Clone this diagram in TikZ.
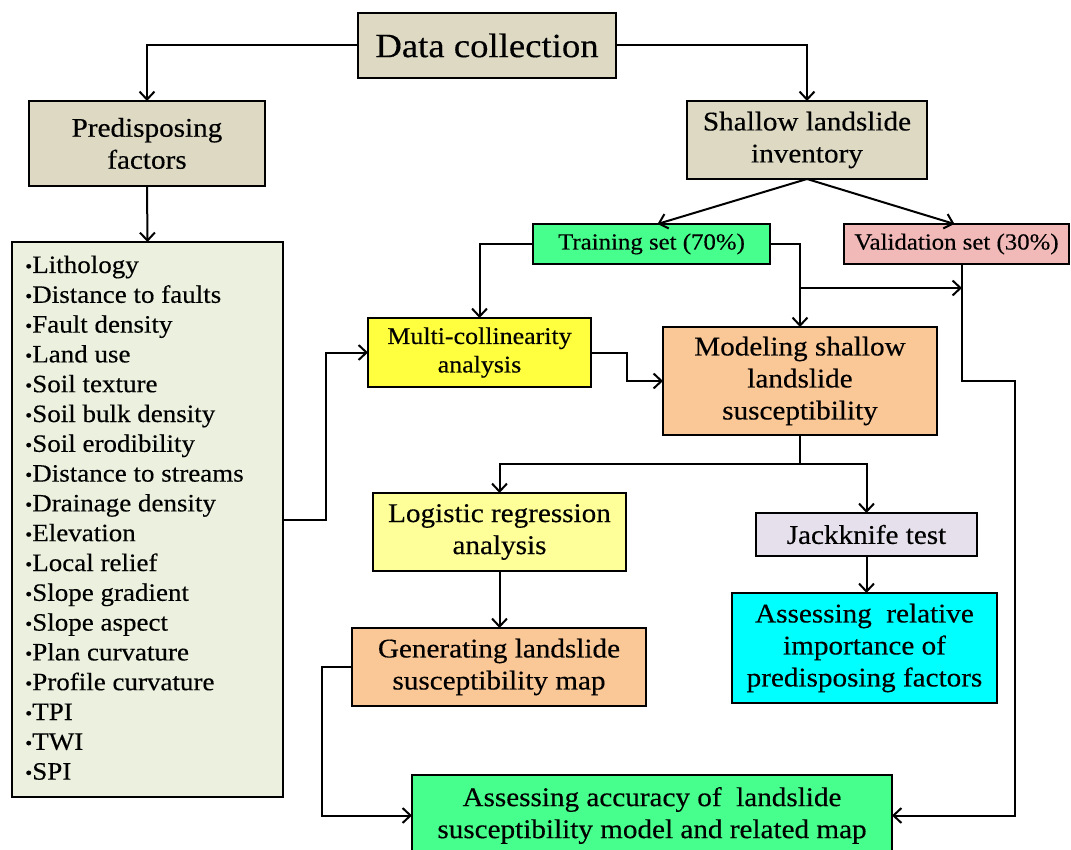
\documentclass[tikz,border=0pt]{standalone}
\usepackage{fontspec}
\usepackage{graphicx}
\setmainfont[FakeStretch=1.08, FakeBold=0.35]{Liberation Serif}
\usetikzlibrary{arrows.meta}
\definecolor{tanbox}{HTML}{DDD9C3}
\definecolor{listbox}{HTML}{EBF1DE}
\definecolor{greenbox}{HTML}{47FF8C}
\definecolor{pinkbox}{HTML}{F2B9B9}
\definecolor{yellowbox}{HTML}{FFFF40}
\definecolor{lightyellow}{HTML}{FFFF99}
\definecolor{orangebox}{HTML}{FAC796}
\definecolor{lavender}{HTML}{E6E0EC}
\definecolor{cyanbox}{HTML}{00FFFF}
\begin{document}
\begin{tikzpicture}[x=1pt,y=-1pt,
  box/.style={draw=black, line width=2.3pt, inner sep=0pt, outer sep=0pt, align=center, text=black},
  conn/.style={line width=2pt, -{Straight Barb[length=8pt,width=15pt]}},
  plain/.style={line width=2pt},
  fA/.style={font=\fontsize{34}{40}\selectfont},
  fB/.style={font=\fontsize{27}{32}\selectfont},
  fC/.style={font=\fontsize{24}{28.5}\selectfont},
  fT/.style={font=\fontsize{23}{28}\selectfont},
  fL/.style={font=\fontsize{25}{29.8}\selectfont}]
\fill[white] (0,0) rectangle (1071,850);
\useasboundingbox (0,0) rectangle (1071,850);

% boxes
\node[box, fA, fill=tanbox, minimum width=258pt, minimum height=65pt] (dc) at (487,45.5) {Data collection};
\node[box, fB, fill=tanbox, minimum width=236pt, minimum height=85pt] (pf) at (147,143.5) {Predisposing\\factors};
\node[box, fill=listbox, minimum width=271pt, minimum height=555pt] (list) at (147.5,519.5) {};
\node[box, fB, fill=tanbox, minimum width=240pt, minimum height=78pt] (sli) at (807,140) {Shallow landslide\\inventory};
\node[box, fT, fill=greenbox, minimum width=237pt, minimum height=40pt] (tr) at (651.5,244) {Training set (70\%)};
\node[box, fT, fill=pinkbox, minimum width=225pt, minimum height=40pt] (val) at (956.5,244) {Validation set (30\%)};
\node[box, fC, fill=yellowbox, minimum width=223pt, minimum height=69pt] (multi) at (479.5,352.5) {Multi-collinearity\\analysis};
\node[box, fB, fill=orangebox, minimum width=274pt, minimum height=108pt] (mod) at (800,381) {Modeling shallow\\landslide\\susceptibility};
\node[box, fB, fill=lightyellow, minimum width=253pt, minimum height=78pt] (log) at (499.5,532) {Logistic regression\\analysis};
\node[box, fB, fill=lavender, minimum width=221pt, minimum height=43pt] (jack) at (866.5,534.5) {Jackknife test};
\node[box, fB, fill=orangebox, minimum width=294pt, minimum height=78pt] (gen) at (499,667) {Generating landslide\\susceptibility map};
\node[box, fB, fill=cyanbox, minimum width=265pt, minimum height=110pt] (rel) at (864.5,648) {Assessing\ \ relative\\importance of\\predisposing factors};
\node[box, fB, fill=greenbox, minimum width=480pt, minimum height=81pt] (acc) at (652,815.5) {Assessing accuracy of\ \ landslide\\susceptibility model and related map};

% list items
\foreach \t [count=\i] in {Lithology,Distance to faults,Fault density,Land use,Soil texture,Soil bulk density,Soil erodibility,Distance to streams,Drainage density,Elevation,Local relief,Slope gradient,Slope aspect,Plan curvature,Profile curvature,TPI,TWI,SPI}
  \node[fL, anchor=base west, inner sep=0pt, text=black] (li\i) at (25,{273+(\i-1)*29.8}) {\raisebox{0.5pt}{\scalebox{0.75}{\textbullet}}\t};

% connectors
\coordinate (j1) at (800,288);
\coordinate (j2) at (962,288);
\coordinate (br) at (800,464);
\draw[conn] (dc.west) -| (pf.north);
\draw[conn] (dc.east) -| (sli.north);
\draw[conn] (pf.south) -- (list.north);
\draw[conn] (sli.south) -- ([xshift=6pt]tr.north);
\draw[conn] (sli.south) -- ([xshift=-2pt]val.north);
\draw[conn] (tr.west) -| (multi.north);
\draw[conn] (tr.east) -| (mod.north);
\draw[conn] (j1) -- (j2);
\draw[conn] (j2 |- val.south) -- (962,381) -- (1015,381) |- (acc.east);
\draw[conn] (list.east) -- (326,519.5) |- (multi.west);
\draw[conn] (multi.east) -- (627,352.5) |- (mod.west);
\draw[plain] (mod.south) -- (br);
\draw[conn] (br) -| (log.north);
\draw[conn] (br) -| (jack.north);
\draw[conn] (log.south) -- (log.south |- gen.north);
\draw[conn] (jack.south) -- (jack.south |- rel.north);
\draw[conn] (gen.west) -- (322,667) |- (acc.west);
\end{tikzpicture}
\end{document}
